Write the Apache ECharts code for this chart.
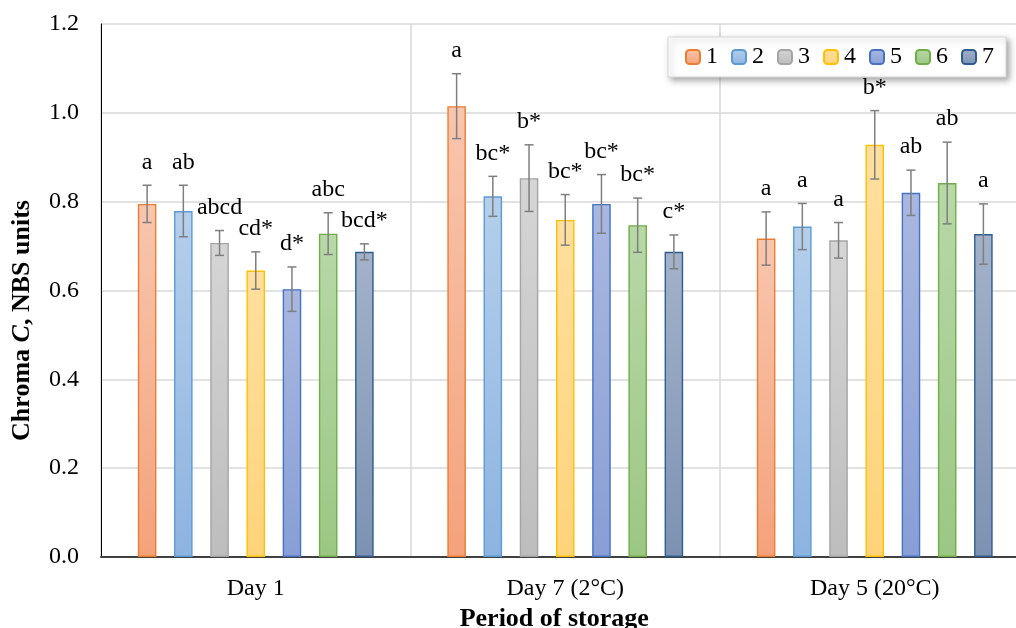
<!DOCTYPE html>
<html>
<head>
<meta charset="utf-8">
<script src="https://cdn.jsdelivr.net/npm/echarts@6/dist/echarts.min.js"></script>
<style>
  html, body { margin: 0; padding: 0; background: #fff; }
  #chart { width: 1016px; height: 628px; }
</style>
</head>
<body>
<div id="chart"></div>
<script>
// Storage periods (x categories) and sample numbers (series)
const categories = ['Day 1', 'Day 7 (2°C)', 'Day 5 (20°C)'];
const seriesNames = ['1', '2', '3', '4', '5', '6', '7'];

// Mean chroma per sample, one value per storage period
const meanS1 = [0.795, 1.015, 0.717];
const meanS2 = [0.779, 0.812, 0.744];
const meanS3 = [0.707, 0.853, 0.713];
const meanS4 = [0.645, 0.759, 0.928];
const meanS5 = [0.603, 0.795, 0.820];
const meanS6 = [0.728, 0.747, 0.842];
const meanS7 = [0.687, 0.687, 0.727];

// Standard deviations (error bars)
const errS1 = [0.042, 0.073, 0.060];
const errS2 = [0.058, 0.045, 0.052];
const errS3 = [0.028, 0.075, 0.040];
const errS4 = [0.042, 0.057, 0.077];
const errS5 = [0.050, 0.066, 0.051];
const errS6 = [0.047, 0.061, 0.092];
const errS7 = [0.018, 0.038, 0.068];

// Significance letters shown above each bar
const lettersS1 = ['a', 'a', 'a'];
const lettersS2 = ['ab', 'bc*', 'a'];
const lettersS3 = ['abcd', 'b*', 'a'];
const lettersS4 = ['cd*', 'bc*', 'b*'];
const lettersS5 = ['d*', 'bc*', 'ab'];
const lettersS6 = ['abc', 'bc*', 'ab'];
const lettersS7 = ['bcd*', 'c*', 'a'];

// Y axis ticks
const yMin = 0, yMax = 1.2, yStep = 0.2;

const means = [meanS1, meanS2, meanS3, meanS4, meanS5, meanS6, meanS7];
const errs = [errS1, errS2, errS3, errS4, errS5, errS6, errS7];
const letters = [lettersS1, lettersS2, lettersS3, lettersS4, lettersS5, lettersS6, lettersS7];

// Fill gradients (top, bottom) and outline colours per sample
const palette = [
  { top: '#f8c6ae', bottom: '#f4a27b', line: '#ed7d31' },
  { top: '#b5cfeb', bottom: '#8db3e0', line: '#5b9bd5' },
  { top: '#d5d5d5', bottom: '#bdbdbd', line: '#a5a5a5' },
  { top: '#ffdf9f', bottom: '#fed37a', line: '#ffc000' },
  { top: '#a9b8e0', bottom: '#889ed5', line: '#4472c4' },
  { top: '#b8d8a8', bottom: '#9bc784', line: '#70ad47' },
  { top: '#a3b2c9', bottom: '#7d92b2', line: '#2e5d91' }
];

const FONT = '"Liberation Serif", "Times New Roman", serif';
const BAR_W = 0.06;     // bar width as share of category band
const BAR_GAP = 0.95;   // gap between bars as share of bar width

const barSeries = seriesNames.map((name, i) => ({
  name: name,
  type: 'bar',
  data: means[i],
  barWidth: (BAR_W * 100) + '%',
  barGap: (BAR_GAP * 100) + '%',
  itemStyle: {
    color: new echarts.graphic.LinearGradient(0, 0, 0, 1, [
      { offset: 0, color: palette[i].top },
      { offset: 1, color: palette[i].bottom }
    ]),
    borderColor: palette[i].line,
    borderWidth: 1.4
  },
  z: 2
}));

// Error bars + letters, laid out on the same slots as the bars
const errData = [];
seriesNames.forEach((name, i) => {
  categories.forEach((c, j) => {
    errData.push([j, means[i][j], errs[i][j], i, letters[i][j]]);
  });
});

const errSeries = {
  type: 'custom',
  name: 'err',
  data: errData,
  encode: { x: 0, y: 1 },
  z: 5,
  silent: true,
  renderItem: function (params, api) {
    const cat = api.value(0);
    const m = api.value(1);
    const e = api.value(2);
    const idx = api.value(3);
    const txt = errData[params.dataIndex][4];
    const band = api.size([1, 0])[0];
    const step = band * BAR_W * (1 + BAR_GAP);
    const base = api.coord([cat, m]);
    const x = base[0] + (idx - (seriesNames.length - 1) / 2) * step;
    const yTop = api.coord([cat, m + e])[1];
    const yBot = api.coord([cat, m - e])[1];
    const cap = 4.5;
    const lineStyle = { stroke: '#7f7f7f', lineWidth: 1.5 };
    return {
      type: 'group',
      children: [
        { type: 'line', shape: { x1: x, y1: yTop, x2: x, y2: yBot }, style: lineStyle },
        { type: 'line', shape: { x1: x - cap, y1: yTop, x2: x + cap, y2: yTop }, style: lineStyle },
        { type: 'line', shape: { x1: x - cap, y1: yBot, x2: x + cap, y2: yBot }, style: lineStyle },
        {
          type: 'text',
          style: {
            text: txt, x: x, y: yTop - 11,
            align: 'center', verticalAlign: 'bottom',
            fontFamily: FONT, fontSize: 24, fill: '#000'
          }
        }
      ]
    };
  }
};

const chart = echarts.init(document.getElementById('chart'), null, { renderer: 'canvas' });
chart.setOption({
  animation: false,
  backgroundColor: '#fff',
  grid: { left: 101, right: -13.5, top: 24, bottom: 71, containLabel: false, outerBoundsMode: 'none' },
  legend: {
    data: seriesNames,
    left: 668, top: 37,
    width: 330,
    padding: [8, 12, 8, 17],
    itemWidth: 14, itemHeight: 14, itemGap: 13,
    backgroundColor: '#fff',
    borderColor: '#d9d9d9', borderWidth: 1,
    shadowBlur: 6, shadowColor: 'rgba(0,0,0,0.35)', shadowOffsetX: 3, shadowOffsetY: 3,
    textStyle: { fontFamily: FONT, fontSize: 24, color: '#000', padding: [2, 0, 0, 1] }
  },
  xAxis: {
    type: 'category',
    data: categories,
    axisTick: { show: false },
    axisLine: { lineStyle: { color: '#404040', width: 2 } },
    splitLine: { show: true, lineStyle: { color: '#d9d9d9', width: 1.5 } },
    axisLabel: { fontFamily: FONT, fontSize: 24, color: '#000', margin: 20 },
    name: 'Period of storage',
    nameLocation: 'middle',
    nameGap: 47,
    nameTextStyle: { fontFamily: FONT, fontSize: 26, fontWeight: 'bold', color: '#000', padding: [0, 22, 0, 0] }
  },
  yAxis: {
    type: 'value',
    min: yMin, max: yMax, interval: yStep,
    axisLine: { show: true, lineStyle: { color: '#000', width: 1 } },
    axisTick: { show: false },
    splitLine: { lineStyle: { color: '#d9d9d9', width: 1.5 } },
    axisLabel: {
      fontFamily: FONT, fontSize: 24, color: '#000', margin: 22,
      formatter: v => v.toFixed(1)
    },
    name: '{b|Chroma }{bi|C}{b|, NBS units}',
    nameLocation: 'middle',
    nameGap: 66,
    nameRotate: 90,
    nameTextStyle: {
      padding: [0, 60, 0, 0],
      rich: {
        b: { fontFamily: FONT, fontSize: 26, fontWeight: 'bold', color: '#000' },
        bi: { fontFamily: FONT, fontSize: 26, fontWeight: 'bold', fontStyle: 'italic', color: '#000' }
      }
    }
  },
  series: barSeries.concat([errSeries])
});
</script>
</body>
</html>
